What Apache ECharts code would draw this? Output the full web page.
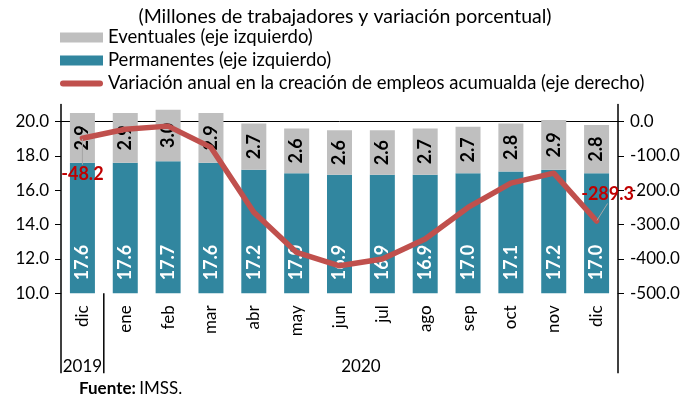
<!DOCTYPE html>
<html>
<head>
<meta charset="utf-8">
<script src="https://cdn.jsdelivr.net/npm/echarts@6/dist/echarts.min.js"></script>
<style>html,body{margin:0;padding:0;background:#fff;}#c{width:690px;height:400px;}</style>
</head>
<body>
<div id="c"></div>
<script>
const categories = ['dic','ene','feb','mar','abr','may','jun','jul','ago','sep','oct','nov','dic'];
const yearLabels = ['2019','2020'];
const yearStart = [0, 1];
const yearEnd = [0, 12];
const permanentes = [17.6,17.6,17.7,17.6,17.2,17.0,16.9,16.9,16.9,17.0,17.1,17.2,17.0];
const eventuales = [2.9,2.9,3.0,2.9,2.7,2.6,2.6,2.6,2.7,2.7,2.8,2.9,2.8];
const variacion = [-48.2,-22,-13,-75,-264,-381,-420,-400,-342,-250,-179,-150,-289.3];
const labeledPoints = [0, 12];
const leftTicks = [10,12,14,16,18,20];
const rightTicks = [-500,-400,-300,-200,-100,0];
const titleText = '(Millones de trabajadores y variación porcentual)';
const seriesNames = ['Eventuales (eje izquierdo)','Permanentes (eje izquierdo)','Variación anual en la creación de empleos acumualda (eje derecho)'];

const FONT = 'Lato';
const chart = echarts.init(document.getElementById('c'), null, {renderer: 'canvas'});

const lineData = variacion.map((v, i) => {
  if (labeledPoints.indexOf(i) < 0) return v;
  return {
    value: v,
    label: {
      show: true,
      position: i === 0 ? 'bottom' : 'top',
      distance: 5
    }
  };
});

const option = {
  animation: false,
  textStyle: {fontFamily: FONT},
  title: {
    text: titleText,
    left: 'center',
    top: 2,
    textStyle: {fontFamily: FONT, fontSize: 19.5, fontWeight: 'normal', color: '#000'}
  },
  legend: {
    orient: 'vertical',
    left: 60,
    top: 28,
    padding: 0,
    itemWidth: 43,
    itemHeight: 10,
    itemGap: 4,
    textStyle: {fontFamily: FONT, fontSize: 18.5, color: '#000', lineHeight: 17},
    data: [
      {name: seriesNames[0], icon: 'rect'},
      {name: seriesNames[1], icon: 'rect'},
      {name: seriesNames[2], icon: 'path://M3,0H40A3,3,0,0,1,40,6H3A3,3,0,0,1,3,0Z'}
    ]
  },
  grid: {left: 61, right: 72, top: 104.5, bottom: 106.7},
  xAxis: {
    type: 'category',
    data: categories,
    axisLine: {lineStyle: {color: '#000', width: 1}},
    axisTick: {show: false},
    axisLabel: {rotate: 90, margin: 12, fontFamily: FONT, fontSize: 17, color: '#000', interval: 0}
  },
  yAxis: [
    {
      type: 'value', min: 10, max: 21, interval: 2, position: 'left',
      splitLine: {show: false},
      axisLine: {show: true, lineStyle: {color: '#000', width: 1.5}},
      axisTick: {show: true, length: 6, lineStyle: {color: '#000'}, customValues: leftTicks},
      axisLabel: {margin: 12, fontFamily: FONT, fontSize: 17, color: '#000', customValues: leftTicks,
        formatter: v => Number(v).toFixed(1)}
    },
    {
      type: 'value', min: -500, max: 50, interval: 100, position: 'right',
      splitLine: {show: false},
      axisLine: {show: true, lineStyle: {color: '#000', width: 1.5}},
      axisTick: {show: true, length: 6, lineStyle: {color: '#000'}, customValues: rightTicks},
      axisLabel: {margin: 12, fontFamily: FONT, fontSize: 17, color: '#000', customValues: rightTicks,
        formatter: v => Number(v).toFixed(1)}
    }
  ],
  series: [
    {
      name: seriesNames[1], type: 'bar', stack: 'total', yAxisIndex: 0, barWidth: 25,
      data: permanentes,
      itemStyle: {color: '#31869F'},
      label: {show: true, position: 'insideBottom', distance: 13, rotate: 90, align: 'left', verticalAlign: 'middle',
        fontFamily: FONT, fontSize: 18, fontWeight: 'bold', color: '#fff', formatter: p => p.value.toFixed(1)}
    },
    {
      name: seriesNames[0], type: 'bar', stack: 'total', yAxisIndex: 0, barWidth: 25,
      data: eventuales,
      itemStyle: {color: '#BFBFBF'},
      label: {show: true, position: 'inside', rotate: 90, align: 'center', verticalAlign: 'middle',
        fontFamily: FONT, fontSize: 18, fontWeight: 'bold', color: '#000', formatter: p => p.value.toFixed(1)}
    },
    {
      name: seriesNames[2], type: 'line', yAxisIndex: 1,
      data: lineData,
      symbol: 'circle', symbolSize: 1, showSymbol: true,
      itemStyle: {color: '#C0504D'},
      lineStyle: {color: '#C0504D', width: 5.5, cap: 'round', join: 'round'},
      label: {show: false, fontFamily: FONT, fontSize: 18, fontWeight: 'bold', color: '#C00000',
        formatter: p => Number(p.value).toFixed(1)},
      labelLine: {show: true, lineStyle: {color: '#A6A6A6', width: 1}},
      labelLayout: function (params) {
        if (params.dataIndex === 0) return {dy: 21};
        if (params.dataIndex === 12) return {dx: 11, dy: -12};
        return {};
      },
      z: 5
    }
  ]
};
chart.setOption(option);

// group separators and year labels on the category axis, placed through the axis scales
const yBase = chart.convertToPixel({yAxisIndex: 0}, 10);
const xA = chart.convertToPixel({xAxisIndex: 0}, 0);
const xB = chart.convertToPixel({xAxisIndex: 0}, 1);
const band = xB - xA;
const graphics = [];
const bounds = [];
yearStart.forEach((s, g) => {
  const e = yearEnd[g];
  const left = chart.convertToPixel({xAxisIndex: 0}, s) - band / 2;
  const right = chart.convertToPixel({xAxisIndex: 0}, e) + band / 2;
  bounds.push(left, right);
  graphics.push({
    type: 'text', x: (left + right) / 2, y: yBase + 73, z: 10,
    style: {text: yearLabels[g], fontFamily: FONT, fontSize: 17, fill: '#000', align: 'center', verticalAlign: 'middle'}
  });
});
[...new Set(bounds.map(b => Math.round(b * 10) / 10))].forEach(x => {
  graphics.push({type: 'line', z: 10, shape: {x1: x, y1: yBase, x2: x, y2: yBase + 80}, style: {stroke: '#000', lineWidth: 1.5}});
});
graphics.push({
  type: 'text', x: 79, y: 389, z: 10,
  style: {
    text: '{b|Fuente:} {n|IMSS.}',
    verticalAlign: 'middle',
    rich: {
      b: {fontFamily: FONT, fontSize: 17, fontWeight: 'bold', fill: '#000'},
      n: {fontFamily: FONT, fontSize: 17, fill: '#000'}
    }
  }
});
chart.setOption({graphic: graphics});
</script>
</body>
</html>
